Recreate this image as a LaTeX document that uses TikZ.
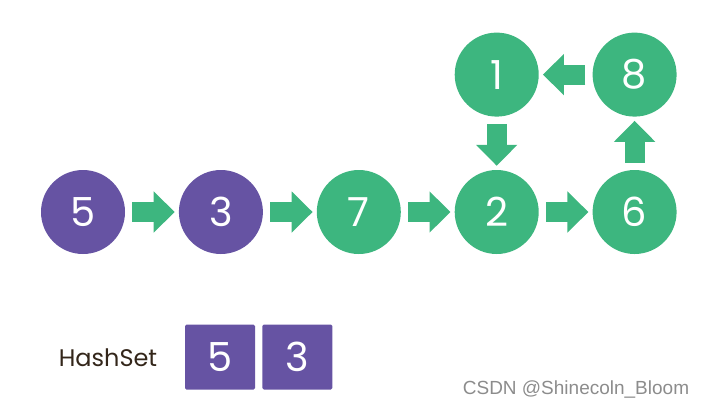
\documentclass[tikz,border=0pt]{standalone}
\usepackage{fontspec}
\setmainfont{Poppins}
\newfontfamily\markfont{Liberation Sans}
\usetikzlibrary{arrows.meta,positioning}
\definecolor{setpurple}{HTML}{6653A3}
\definecolor{pathgreen}{HTML}{3DB67F}
\definecolor{inkbrown}{HTML}{33261A}
\tikzset{
  visited/.style={circle, fill=setpurple, minimum size=84pt, inner sep=0pt, text=white, font=\fontsize{40}{40}\selectfont},
  fresh/.style={circle, fill=pathgreen, minimum size=84pt, inner sep=0pt, text=white, font=\fontsize{40}{40}\selectfont},
  slot/.style={rectangle, rounded corners=1.5pt, fill=setpurple, minimum width=70pt, minimum height=65pt, inner sep=0pt, text=white, font=\fontsize{40}{40}\selectfont},
  step arrow/.style={draw=pathgreen, line width=20pt, -{Triangle[width=40pt,length=21pt]}, shorten <=7pt, shorten >=4pt}
}

\begin{document}
\begin{tikzpicture}[node distance=53.5pt]
  \useasboundingbox (0pt,0pt) rectangle (703pt,-408pt);
  % linked list with a loop
  \node[visited] (n5) at (83pt,-212pt) {5};
  \node[visited, right=of n5] (n3) {3};
  \node[fresh, right=of n3] (n7) {7};
  \node[fresh, right=of n7] (n2) {2};
  \node[fresh, right=of n2] (n6) {6};
  \node[fresh, above=53pt of n2] (n1) {1};
  \node[fresh, above=53pt of n6] (n8) {8};
  \draw[step arrow] (n5) -- (n3);
  \draw[step arrow] (n3) -- (n7);
  \draw[step arrow] (n7) -- (n2);
  \draw[step arrow] (n2) -- (n6);
  \draw[step arrow] (n6) -- (n8);
  \draw[step arrow] (n8) -- (n1);
  \draw[step arrow] (n1) -- (n2);
  % the set
  \node[text=inkbrown, font=\fontsize{24}{24}\selectfont] (label) at (108pt,-358pt) {HashSet};
  \node[slot] (s5) at (220pt,-357pt) {5};
  \node[slot, right=7pt of s5] (s3) {3};
  \node[text=black!45, font=\markfont\fontsize{19}{19}\selectfont] (mark) at (576pt,-389pt) {CSDN @Shinecoln\_Bloom};
\end{tikzpicture}
\end{document}
